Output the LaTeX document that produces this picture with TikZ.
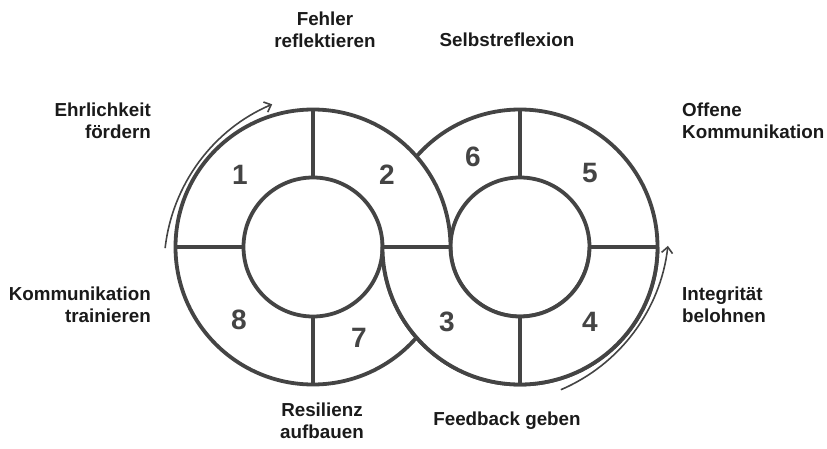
\documentclass[tikz,border=0pt]{standalone}
\usepackage{fontspec}
\setmainfont{Liberation Sans}
\usetikzlibrary{arrows.meta,calc}
\definecolor{ink}{HTML}{444444}
\definecolor{txt}{HTML}{1A1A1A}
\begin{document}
\begin{tikzpicture}[x=1pt,y=1pt,
  ring/.style={draw=ink, line width=3.8pt},
  divider/.style={draw=ink, line width=3.4pt},
  num/.style={font=\fontsize{28}{30}\selectfont\bfseries, text=ink, inner sep=0pt},
  lbl/.style={font=\fontsize{18.8}{22}\selectfont\bfseries, text=txt, inner sep=0pt},
  flow/.style={draw=ink, line width=1.6pt, -{Straight Barb[length=6pt,width=11pt]}}
]
\useasboundingbox (0,0) rectangle (827,448);
\def\Ro{137.5}
\def\Ri{69.5}
\coordinate (L) at (313,201);
\coordinate (R) at (520,201);

% right ring, complete
\draw[ring] (R) circle[radius=\Ro];
\draw[ring] (R) circle[radius=\Ri];
\draw[divider] ($(R)+(0,\Ri)$) -- ($(R)+(0,\Ro)$);
\draw[divider] ($(R)+(\Ri,0)$) -- ($(R)+(\Ro,0)$);
\draw[divider] ($(R)+(0,-\Ri)$) -- ($(R)+(0,-\Ro)$);
\draw[divider] ($(R)+(-\Ri,0)$) -- ($(R)+(-\Ro,0)$);

% left ring over the right ring in the upper half
\begin{scope}
  \clip (0,201) rectangle (827,448);
  \fill[white, even odd rule] (L) circle[radius=\Ro] (L) circle[radius=\Ri];
\end{scope}
\draw[ring] (L) circle[radius=\Ro];
\draw[ring] (L) circle[radius=\Ri];
\draw[divider] ($(L)+(0,\Ri)$) -- ($(L)+(0,\Ro)$);
\draw[divider] ($(L)+(\Ri,0)$) -- ($(L)+(\Ro,0)$);
\draw[divider] ($(L)+(0,-\Ri)$) -- ($(L)+(0,-\Ro)$);
\draw[divider] ($(L)+(-\Ri,0)$) -- ($(L)+(-\Ro,0)$);

% right ring over the left ring in the lower half
\begin{scope}
  \clip (0,0) rectangle (827,201);
  \fill[white, even odd rule] (R) circle[radius=\Ro] (R) circle[radius=\Ri];
  \draw[ring] (R) circle[radius=\Ro];
  \draw[ring] (R) circle[radius=\Ri];
\end{scope}
\draw[divider] ($(R)+(0,-\Ri)$) -- ($(R)+(0,-\Ro)$);
\draw[divider] ($(R)+(-\Ri,0)$) -- ($(R)+(-\Ro,0)$);
\draw[divider] ($(R)+(\Ri,0)$) -- ($(R)+(\Ro,0)$);

% flow arrows
\coordinate (a1c) at (342,180);
\coordinate (a1s) at ($(a1c)+(173.6:178)$);
\draw[flow] (a1s) arc[start angle=173.6, end angle=113.1, radius=178];
\coordinate (a2c) at (491,222);
\coordinate (a2s) at ($(a2c)+(293.1:178)$);
\draw[flow] (a2s) arc[start angle=293.1, end angle=353.6, radius=178];

% segment numbers
\node[num] (n1) at (240,273) {1};
\node[num] (n2) at (387,273) {2};
\node[num] (n8) at (239,128) {8};
\node[num] (n7) at (359,110) {7};
\node[num] (n3) at (447,126) {3};
\node[num] (n6) at (473,291) {6};
\node[num] (n5) at (590,275) {5};
\node[num] (n4) at (590,126) {4};

% labels
\node[lbl, align=center, anchor=north] (t1) at (325,436) {Fehler\\reflektieren};
\node[lbl, anchor=north] (t2) at (507,415) {Selbstreflexion};
\node[lbl, align=right, anchor=north east] (t3) at (151,345) {Ehrlichkeit\\fördern};
\node[lbl, align=left, anchor=north west] (t4) at (682,345) {Offene\\Kommunikation};
\node[lbl, align=right, anchor=north east] (t5) at (151,161) {Kommunikation\\trainieren};
\node[lbl, align=left, anchor=north west] (t6) at (682,161) {Integrität\\belohnen};
\node[lbl, align=center, anchor=north] (t7) at (322,45) {Resilienz\\aufbauen};
\node[lbl, anchor=north] (t8) at (507,36) {Feedback geben};
\end{tikzpicture}
\end{document}
